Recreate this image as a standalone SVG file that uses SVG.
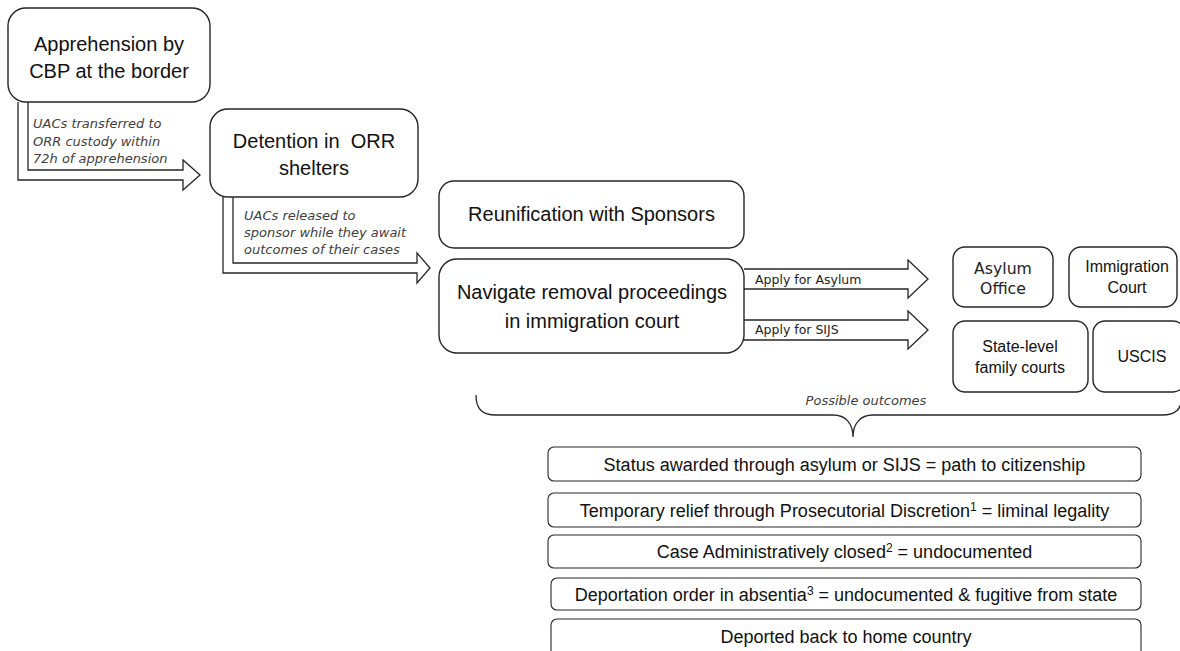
<svg xmlns="http://www.w3.org/2000/svg" width="1180" height="651" viewBox="0 0 1180 651">
<style>
.box{fill:#fff;stroke:#262626;stroke-width:1.4}
.obox{fill:#fff;stroke:#262626;stroke-width:1.1}
.arr{fill:#fff;stroke:#262626;stroke-width:1.3;stroke-linejoin:miter}
.main{font-family:"Liberation Sans",Arial,sans-serif;font-size:20px;fill:#111;text-anchor:middle}
.out{font-family:"Liberation Sans",Arial,sans-serif;font-size:18px;fill:#111;text-anchor:middle}
.sm{font-family:"Liberation Sans",Arial,sans-serif;font-size:16px;fill:#111;text-anchor:middle}
.cg{font-family:"DejaVu Sans",sans-serif;fill:#222}
.lab{font-family:"DejaVu Sans",sans-serif;font-style:italic;font-size:13px;fill:#404040}
</style>
<rect width="1180" height="651" fill="#fff"/>
<g id="connectors">
  <path class="arr" d="M18,102 L18,180 L183,180 L183,190 L200,175 L183,160 L183,170 L28,170 L28,102"/>
  <path class="arr" d="M223,197 L223,273 L417,273 L417,283 L430,268 L417,253 L417,263 L233,263 L233,197"/>
  <path class="arr" d="M744,269 L908,269 L908,260 L928,279 L908,298 L908,289 L744,289"/>
  <path class="arr" d="M744,320 L908,320 L908,311 L928,330 L908,349 L908,340 L744,340"/>
  <path fill="none" stroke="#262626" stroke-width="1.3" d="M476,395 C476,409 482,415 496,415 L833,415 C846,415 853,424 853,437 C853,424 860,415 873,415 L1162,415 C1176,415 1182,409 1182,395"/>
  <text class="lab" x="33" y="128">UACs transferred to</text>
  <text class="lab" x="33" y="145.5">ORR custody within</text>
  <text class="lab" x="33" y="163">72h of apprehension</text>
  <text class="lab" x="244" y="220">UACs released to</text>
  <text class="lab" x="244" y="237">sponsor while they await</text>
  <text class="lab" x="244" y="254">outcomes of their cases</text>
  <text class="cg" x="755" y="284" font-size="12.5">Apply for Asylum</text>
  <text class="cg" x="755" y="334" font-size="12.5">Apply for SIJS</text>
  <text class="lab" x="866" y="405" font-size="11.8" text-anchor="middle">Possible outcomes</text>
</g>
<g id="n-apprehension">
  <rect class="box" x="8" y="8" width="202" height="94" rx="18"/>
  <text class="main" x="109" y="51">Apprehension by</text>
  <text class="main" x="109" y="78">CBP at the border</text>
</g>
<g id="n-detention">
  <rect class="box" x="210" y="109" width="208" height="88" rx="18"/>
  <text class="main" x="314" y="148" xml:space="preserve">Detention in  ORR</text>
  <text class="main" x="314" y="175">shelters</text>
</g>
<g id="n-reunification">
  <rect class="box" x="439" y="181" width="305" height="67" rx="15"/>
  <text class="main" x="591.5" y="221">Reunification with Sponsors</text>
</g>
<g id="n-navigate">
  <rect class="box" x="439" y="259" width="305" height="94" rx="18"/>
  <text class="main" x="592" y="299">Navigate removal proceedings</text>
  <text class="main" x="592" y="328">in immigration court</text>
</g>
<g id="n-asylum-office">
  <rect class="box" x="953" y="247" width="100" height="60" rx="12"/>
  <text class="cg" x="1003" y="274" font-size="15.7" text-anchor="middle">Asylum</text>
  <text class="cg" x="1003" y="294" font-size="15.7" text-anchor="middle">Office</text>
</g>
<g id="n-immigration-court">
  <rect class="box" x="1069" y="247" width="108" height="60" rx="12"/>
  <text class="sm" x="1127" y="272">Immigration</text>
  <text class="sm" x="1127" y="293">Court</text>
</g>
<g id="n-family-courts">
  <rect class="box" x="953" y="321" width="135" height="71" rx="12"/>
  <text class="sm" x="1020" y="352">State-level</text>
  <text class="sm" x="1020" y="373">family courts</text>
</g>
<g id="n-uscis">
  <rect class="box" x="1093" y="321" width="92" height="71" rx="12"/>
  <text class="sm" x="1142" y="362">USCIS</text>
</g>
<g id="o-status">
  <rect class="obox" x="548" y="447" width="593" height="34" rx="6"/>
  <text class="out" x="844.5" y="470.5">Status awarded through asylum or SIJS = path to citizenship</text>
</g>
<g id="o-temporary">
  <rect class="obox" x="548" y="493" width="593" height="34" rx="6"/>
  <text class="out" x="844.5" y="516.5">Temporary relief through Prosecutorial Discretion<tspan font-size="12" dy="-6">1</tspan><tspan dy="6"> = liminal legality</tspan></text>
</g>
<g id="o-closed">
  <rect class="obox" x="548" y="535" width="593" height="33" rx="6"/>
  <text class="out" x="844.5" y="558">Case Administratively closed<tspan font-size="12" dy="-6">2</tspan><tspan dy="6"> = undocumented</tspan></text>
</g>
<g id="o-absentia">
  <rect class="obox" x="551" y="578" width="590" height="32" rx="6"/>
  <text class="out" x="846" y="600.5">Deportation order in absentia<tspan font-size="12" dy="-6">3</tspan><tspan dy="6"> = undocumented &amp; fugitive from state</tspan></text>
</g>
<g id="o-deported">
  <rect class="obox" x="551" y="619" width="590" height="44" rx="6"/>
  <text class="out" x="846" y="643">Deported back to home country</text>
</g>
</svg>
